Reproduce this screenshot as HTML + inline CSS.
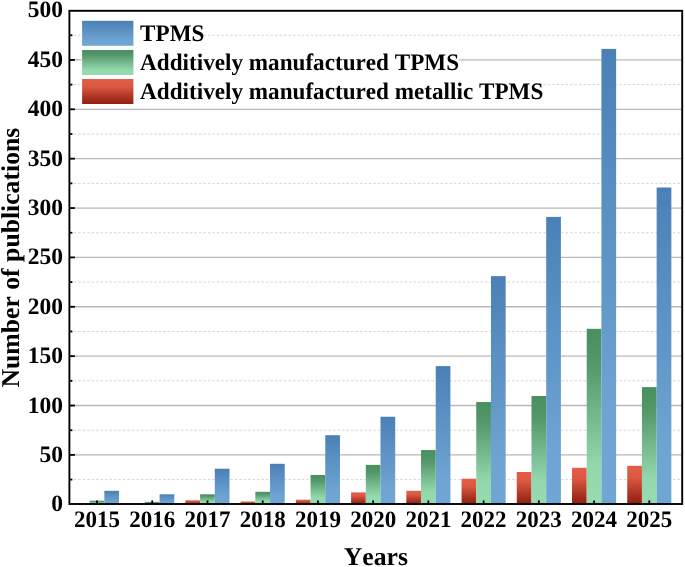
<!DOCTYPE html>
<html><head><meta charset="utf-8"><style>
html,body{margin:0;padding:0;background:#fff;}
svg{display:block;will-change:transform;}
text{font-family:"Liberation Serif",serif;font-weight:bold;fill:#000;text-rendering:geometricPrecision;font-kerning:none;}
</style></head><body>
<svg width="685" height="567" viewBox="0 0 685 567">
<defs>
<linearGradient id="gb" x1="0" y1="0" x2="0" y2="1">
<stop offset="0" stop-color="#4b80b6"/><stop offset="0.8" stop-color="#6da4d2"/><stop offset="1" stop-color="#70a6d3"/></linearGradient>
<linearGradient id="gg" x1="0" y1="0" x2="0" y2="1">
<stop offset="0" stop-color="#4a8f60"/><stop offset="0.2" stop-color="#53976a"/><stop offset="0.78" stop-color="#93d7ad"/><stop offset="1" stop-color="#98dbb1"/></linearGradient>
<linearGradient id="gr" x1="0" y1="0" x2="0" y2="1">
<stop offset="0" stop-color="#e55d48"/><stop offset="0.3" stop-color="#dc5842"/><stop offset="0.82" stop-color="#a02c1b"/><stop offset="1" stop-color="#951f10"/></linearGradient>
</defs>
<rect width="685" height="567" fill="#fff"/>

<line x1="69.29" x2="682.2" y1="479.59" y2="479.59" stroke="#d4d4d4" stroke-width="1" stroke-dasharray="2.4 2.072"/>
<line x1="69.4" x2="682.2" y1="454.90" y2="454.90" stroke="#b8b8b8" stroke-width="1.35"/>
<line x1="69.29" x2="682.2" y1="430.22" y2="430.22" stroke="#d4d4d4" stroke-width="1" stroke-dasharray="2.4 2.072"/>
<line x1="69.4" x2="682.2" y1="405.53" y2="405.53" stroke="#b8b8b8" stroke-width="1.35"/>
<line x1="69.29" x2="682.2" y1="380.85" y2="380.85" stroke="#d4d4d4" stroke-width="1" stroke-dasharray="2.4 2.072"/>
<line x1="69.4" x2="682.2" y1="356.16" y2="356.16" stroke="#b8b8b8" stroke-width="1.35"/>
<line x1="69.29" x2="682.2" y1="331.48" y2="331.48" stroke="#d4d4d4" stroke-width="1" stroke-dasharray="2.4 2.072"/>
<line x1="69.4" x2="682.2" y1="306.79" y2="306.79" stroke="#b8b8b8" stroke-width="1.35"/>
<line x1="69.29" x2="682.2" y1="282.11" y2="282.11" stroke="#d4d4d4" stroke-width="1" stroke-dasharray="2.4 2.072"/>
<line x1="69.4" x2="682.2" y1="257.42" y2="257.42" stroke="#b8b8b8" stroke-width="1.35"/>
<line x1="69.29" x2="682.2" y1="232.74" y2="232.74" stroke="#d4d4d4" stroke-width="1" stroke-dasharray="2.4 2.072"/>
<line x1="69.4" x2="682.2" y1="208.05" y2="208.05" stroke="#b8b8b8" stroke-width="1.35"/>
<line x1="69.29" x2="682.2" y1="183.37" y2="183.37" stroke="#d4d4d4" stroke-width="1" stroke-dasharray="2.4 2.072"/>
<line x1="69.4" x2="682.2" y1="158.68" y2="158.68" stroke="#b8b8b8" stroke-width="1.35"/>
<line x1="69.29" x2="682.2" y1="134.00" y2="134.00" stroke="#d4d4d4" stroke-width="1" stroke-dasharray="2.4 2.072"/>
<line x1="69.4" x2="682.2" y1="109.31" y2="109.31" stroke="#b8b8b8" stroke-width="1.35"/>
<line x1="69.29" x2="682.2" y1="84.63" y2="84.63" stroke="#d4d4d4" stroke-width="1" stroke-dasharray="2.4 2.072"/>
<line x1="69.4" x2="682.2" y1="59.94" y2="59.94" stroke="#b8b8b8" stroke-width="1.35"/>
<line x1="69.29" x2="682.2" y1="35.26" y2="35.26" stroke="#d4d4d4" stroke-width="1" stroke-dasharray="2.4 2.072"/>
<rect x="89.65" y="500.70" width="14.7" height="3.30" fill="url(#gg)"/>
<rect x="104.35" y="490.80" width="14.7" height="13.20" fill="url(#gb)"/>
<rect x="144.88" y="501.90" width="14.7" height="2.10" fill="url(#gg)"/>
<rect x="159.58" y="494.30" width="14.7" height="9.70" fill="url(#gb)"/>
<rect x="185.41" y="500.30" width="14.7" height="3.70" fill="url(#gr)"/>
<rect x="200.11" y="494.30" width="14.7" height="9.70" fill="url(#gg)"/>
<rect x="214.81" y="468.70" width="14.7" height="35.30" fill="url(#gb)"/>
<rect x="240.64" y="501.50" width="14.7" height="2.50" fill="url(#gr)"/>
<rect x="255.34" y="491.80" width="14.7" height="12.20" fill="url(#gg)"/>
<rect x="270.04" y="463.80" width="14.7" height="40.20" fill="url(#gb)"/>
<rect x="295.87" y="499.70" width="14.7" height="4.30" fill="url(#gr)"/>
<rect x="310.57" y="475.00" width="14.7" height="29.00" fill="url(#gg)"/>
<rect x="325.27" y="435.20" width="14.7" height="68.80" fill="url(#gb)"/>
<rect x="351.10" y="492.40" width="14.7" height="11.60" fill="url(#gr)"/>
<rect x="365.80" y="464.90" width="14.7" height="39.10" fill="url(#gg)"/>
<rect x="380.50" y="416.75" width="14.7" height="87.25" fill="url(#gb)"/>
<rect x="406.33" y="490.80" width="14.7" height="13.20" fill="url(#gr)"/>
<rect x="421.03" y="450.05" width="14.7" height="53.95" fill="url(#gg)"/>
<rect x="435.73" y="366.10" width="14.7" height="137.90" fill="url(#gb)"/>
<rect x="461.56" y="478.70" width="14.7" height="25.30" fill="url(#gr)"/>
<rect x="476.26" y="402.00" width="14.7" height="102.00" fill="url(#gg)"/>
<rect x="490.96" y="276.10" width="14.7" height="227.90" fill="url(#gb)"/>
<rect x="516.79" y="472.00" width="14.7" height="32.00" fill="url(#gr)"/>
<rect x="531.49" y="396.00" width="14.7" height="108.00" fill="url(#gg)"/>
<rect x="546.19" y="216.90" width="14.7" height="287.10" fill="url(#gb)"/>
<rect x="572.02" y="467.80" width="14.7" height="36.20" fill="url(#gr)"/>
<rect x="586.72" y="328.80" width="14.7" height="175.20" fill="url(#gg)"/>
<rect x="601.42" y="48.90" width="14.7" height="455.10" fill="url(#gb)"/>
<rect x="627.25" y="465.80" width="14.7" height="38.20" fill="url(#gr)"/>
<rect x="641.95" y="387.10" width="14.7" height="116.90" fill="url(#gg)"/>
<rect x="656.65" y="187.50" width="14.7" height="316.50" fill="url(#gb)"/>
<line x1="97.00" x2="97.00" y1="504.0" y2="500.40" stroke="#000" stroke-width="1.8"/>
<line x1="152.23" x2="152.23" y1="504.0" y2="500.40" stroke="#000" stroke-width="1.8"/>
<line x1="207.46" x2="207.46" y1="504.0" y2="500.40" stroke="#000" stroke-width="1.8"/>
<line x1="262.69" x2="262.69" y1="504.0" y2="500.40" stroke="#000" stroke-width="1.8"/>
<line x1="317.92" x2="317.92" y1="504.0" y2="500.40" stroke="#000" stroke-width="1.8"/>
<line x1="373.15" x2="373.15" y1="504.0" y2="500.40" stroke="#000" stroke-width="1.8"/>
<line x1="428.38" x2="428.38" y1="504.0" y2="500.40" stroke="#000" stroke-width="1.8"/>
<line x1="483.61" x2="483.61" y1="504.0" y2="500.40" stroke="#000" stroke-width="1.8"/>
<line x1="538.84" x2="538.84" y1="504.0" y2="500.40" stroke="#000" stroke-width="1.8"/>
<line x1="594.07" x2="594.07" y1="504.0" y2="500.40" stroke="#000" stroke-width="1.8"/>
<line x1="649.30" x2="649.30" y1="504.0" y2="500.40" stroke="#000" stroke-width="1.8"/>
<line x1="69.4" x2="72.4" y1="479.59" y2="479.59" stroke="#000" stroke-width="1.8"/>
<line x1="69.4" x2="74.9" y1="454.90" y2="454.90" stroke="#000" stroke-width="1.8"/>
<line x1="69.4" x2="72.4" y1="430.22" y2="430.22" stroke="#000" stroke-width="1.8"/>
<line x1="69.4" x2="74.9" y1="405.53" y2="405.53" stroke="#000" stroke-width="1.8"/>
<line x1="69.4" x2="72.4" y1="380.85" y2="380.85" stroke="#000" stroke-width="1.8"/>
<line x1="69.4" x2="74.9" y1="356.16" y2="356.16" stroke="#000" stroke-width="1.8"/>
<line x1="69.4" x2="72.4" y1="331.48" y2="331.48" stroke="#000" stroke-width="1.8"/>
<line x1="69.4" x2="74.9" y1="306.79" y2="306.79" stroke="#000" stroke-width="1.8"/>
<line x1="69.4" x2="72.4" y1="282.11" y2="282.11" stroke="#000" stroke-width="1.8"/>
<line x1="69.4" x2="74.9" y1="257.42" y2="257.42" stroke="#000" stroke-width="1.8"/>
<line x1="69.4" x2="72.4" y1="232.74" y2="232.74" stroke="#000" stroke-width="1.8"/>
<line x1="69.4" x2="74.9" y1="208.05" y2="208.05" stroke="#000" stroke-width="1.8"/>
<line x1="69.4" x2="72.4" y1="183.37" y2="183.37" stroke="#000" stroke-width="1.8"/>
<line x1="69.4" x2="74.9" y1="158.68" y2="158.68" stroke="#000" stroke-width="1.8"/>
<line x1="69.4" x2="72.4" y1="134.00" y2="134.00" stroke="#000" stroke-width="1.8"/>
<line x1="69.4" x2="74.9" y1="109.31" y2="109.31" stroke="#000" stroke-width="1.8"/>
<line x1="69.4" x2="72.4" y1="84.63" y2="84.63" stroke="#000" stroke-width="1.8"/>
<line x1="69.4" x2="74.9" y1="59.94" y2="59.94" stroke="#000" stroke-width="1.8"/>
<line x1="69.4" x2="72.4" y1="35.26" y2="35.26" stroke="#000" stroke-width="1.8"/>
<rect x="69.4" y="10.8" width="612.80" height="493.20" fill="none" stroke="#000" stroke-width="1.9"/>
<rect x="81.6" y="17.8" width="122.62" height="31" fill="#fff"/>
<rect x="82.1" y="20.8" width="51.3" height="25" fill="url(#gb)"/>
<text x="140.1" y="40.7" font-size="23.65" textLength="64.31" lengthAdjust="spacingAndGlyphs">TPMS</text>
<rect x="81.6" y="47.0" width="377.27" height="31" fill="#fff"/>
<rect x="82.1" y="50.0" width="51.3" height="25" fill="url(#gg)"/>
<text x="140.1" y="70.0" font-size="23.65" textLength="318.96" lengthAdjust="spacingAndGlyphs">Additively manufactured TPMS</text>
<rect x="81.6" y="76.0" width="461.48" height="31" fill="#fff"/>
<rect x="82.1" y="79.0" width="51.3" height="25" fill="url(#gr)"/>
<text x="140.1" y="99.2" font-size="23.65" textLength="403.16" lengthAdjust="spacingAndGlyphs">Additively manufactured metallic TPMS</text>
<text x="63.1" y="511.47" font-size="23.5" text-anchor="end">0</text>
<text x="63.1" y="462.06" font-size="23.5" text-anchor="end">50</text>
<text x="63.1" y="412.65" font-size="23.5" text-anchor="end">100</text>
<text x="63.1" y="363.24" font-size="23.5" text-anchor="end">150</text>
<text x="63.1" y="313.83" font-size="23.5" text-anchor="end">200</text>
<text x="63.1" y="264.42" font-size="23.5" text-anchor="end">250</text>
<text x="63.1" y="215.01" font-size="23.5" text-anchor="end">300</text>
<text x="63.1" y="165.60" font-size="23.5" text-anchor="end">350</text>
<text x="63.1" y="116.19" font-size="23.5" text-anchor="end">400</text>
<text x="63.1" y="66.78" font-size="23.5" text-anchor="end">450</text>
<text x="63.1" y="17.37" font-size="23.5" text-anchor="end">500</text>
<text x="74.00" y="526.7" font-size="23.5" textLength="46.0" lengthAdjust="spacingAndGlyphs">2015</text>
<text x="129.23" y="526.7" font-size="23.5" textLength="46.0" lengthAdjust="spacingAndGlyphs">2016</text>
<text x="184.46" y="526.7" font-size="23.5" textLength="46.0" lengthAdjust="spacingAndGlyphs">2017</text>
<text x="239.69" y="526.7" font-size="23.5" textLength="46.0" lengthAdjust="spacingAndGlyphs">2018</text>
<text x="294.92" y="526.7" font-size="23.5" textLength="46.0" lengthAdjust="spacingAndGlyphs">2019</text>
<text x="350.15" y="526.7" font-size="23.5" textLength="46.0" lengthAdjust="spacingAndGlyphs">2020</text>
<text x="405.38" y="526.7" font-size="23.5" textLength="46.0" lengthAdjust="spacingAndGlyphs">2021</text>
<text x="460.61" y="526.7" font-size="23.5" textLength="46.0" lengthAdjust="spacingAndGlyphs">2022</text>
<text x="515.84" y="526.7" font-size="23.5" textLength="46.0" lengthAdjust="spacingAndGlyphs">2023</text>
<text x="571.07" y="526.7" font-size="23.5" textLength="46.0" lengthAdjust="spacingAndGlyphs">2024</text>
<text x="626.30" y="526.7" font-size="23.5" textLength="46.0" lengthAdjust="spacingAndGlyphs">2025</text>
<text x="375.85" y="565" font-size="25.7" text-anchor="middle">Years</text>
<text transform="translate(18.7,257.6) rotate(-90)" x="0" y="0" font-size="25.7" text-anchor="middle">Number of publications</text>
</svg></body></html>
